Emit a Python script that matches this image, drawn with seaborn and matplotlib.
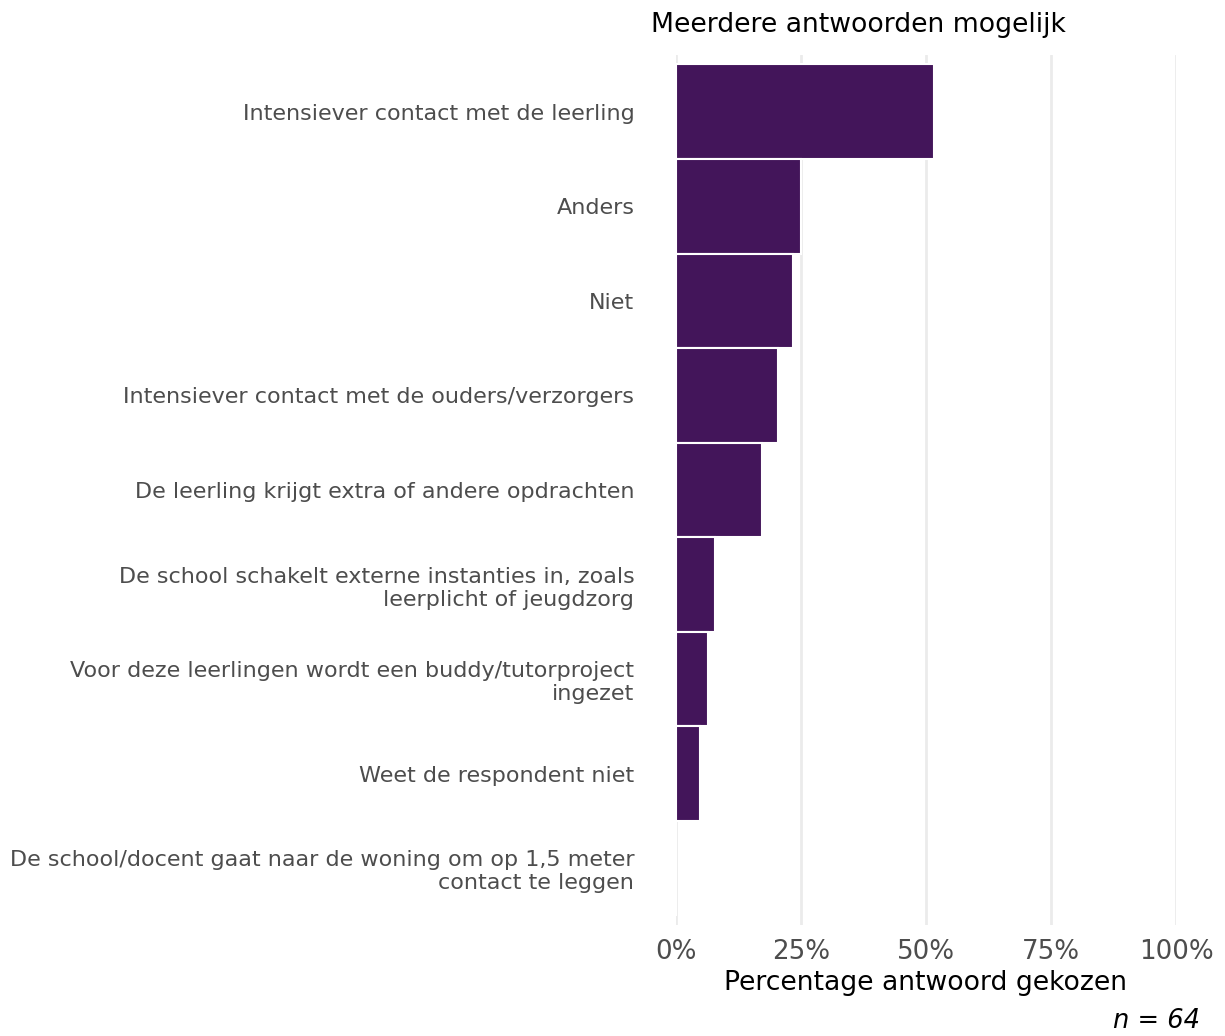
import numpy as np
import pandas as pd
import seaborn as sns
import matplotlib.pyplot as plt
from matplotlib.ticker import FuncFormatter

# data (percentages, n = 64)
categories = [
    "Intensiever contact met de leerling",
    "Anders",
    "Niet",
    "Intensiever contact met de ouders/verzorgers",
    "De leerling krijgt extra of andere opdrachten",
    "De school schakelt externe instanties in, zoals\nleerplicht of jeugdzorg",
    "Voor deze leerlingen wordt een buddy/tutorproject\ningezet",
    "Weet de respondent niet",
    "De school/docent gaat naar de woning om op 1,5 meter\ncontact te leggen",
]
percentages = [51.6, 25.0, 23.4, 20.3, 17.2, 7.8, 6.3, 4.7, 0.0]
xticks = [0, 25, 50, 75, 100]

df = pd.DataFrame({"categorie": categories, "pct": percentages})

sns.set_theme(style="white")
plt.rcParams['font.family'] = ['DejaVu Sans']

fig = plt.figure(figsize=(12.25, 10.36), dpi=100)
ax = fig.add_axes([676/1225, 1 - 925/1036, 500/1225, 870/1036])

sns.barplot(data=df, x="pct", y="categorie", orient="h", color="#43155A",
            saturation=1, width=1.0, edgecolor="white", linewidth=1.5, ax=ax, zorder=3)

ax.set_xlim(0, 100)
ax.set_ylim(len(categories) - 1 + 0.6, -0.6)
ax.set_xticks(xticks)
ax.xaxis.set_major_formatter(FuncFormatter(lambda v, p: f"{v:.0f}%"))
ax.grid(axis="x", color="#EBEBEB", linewidth=2, zorder=0)
ax.grid(axis="y", visible=False)
for s in ax.spines.values():
    s.set_visible(False)

ax.tick_params(axis="y", length=0, pad=30, labelsize=16, labelcolor="#4D4D4D")
ax.tick_params(axis="x", length=0, pad=10, labelsize=18.8, labelcolor="#4D4D4D")
ax.set_ylabel("")
ax.set_xlabel("Percentage antwoord gekozen", fontsize=19.2, color="black", labelpad=4)

fig.text(651/1225, 1 - 25/1036, "Meerdere antwoorden mogelijk", fontsize=19.2,
         ha="left", va="center", color="black")
fig.text(1200/1225, 1 - 1021/1036, "n = 64", fontsize=18.5, style="italic",
         ha="right", va="center", color="black")

fig.savefig("out.png", dpi=100)
